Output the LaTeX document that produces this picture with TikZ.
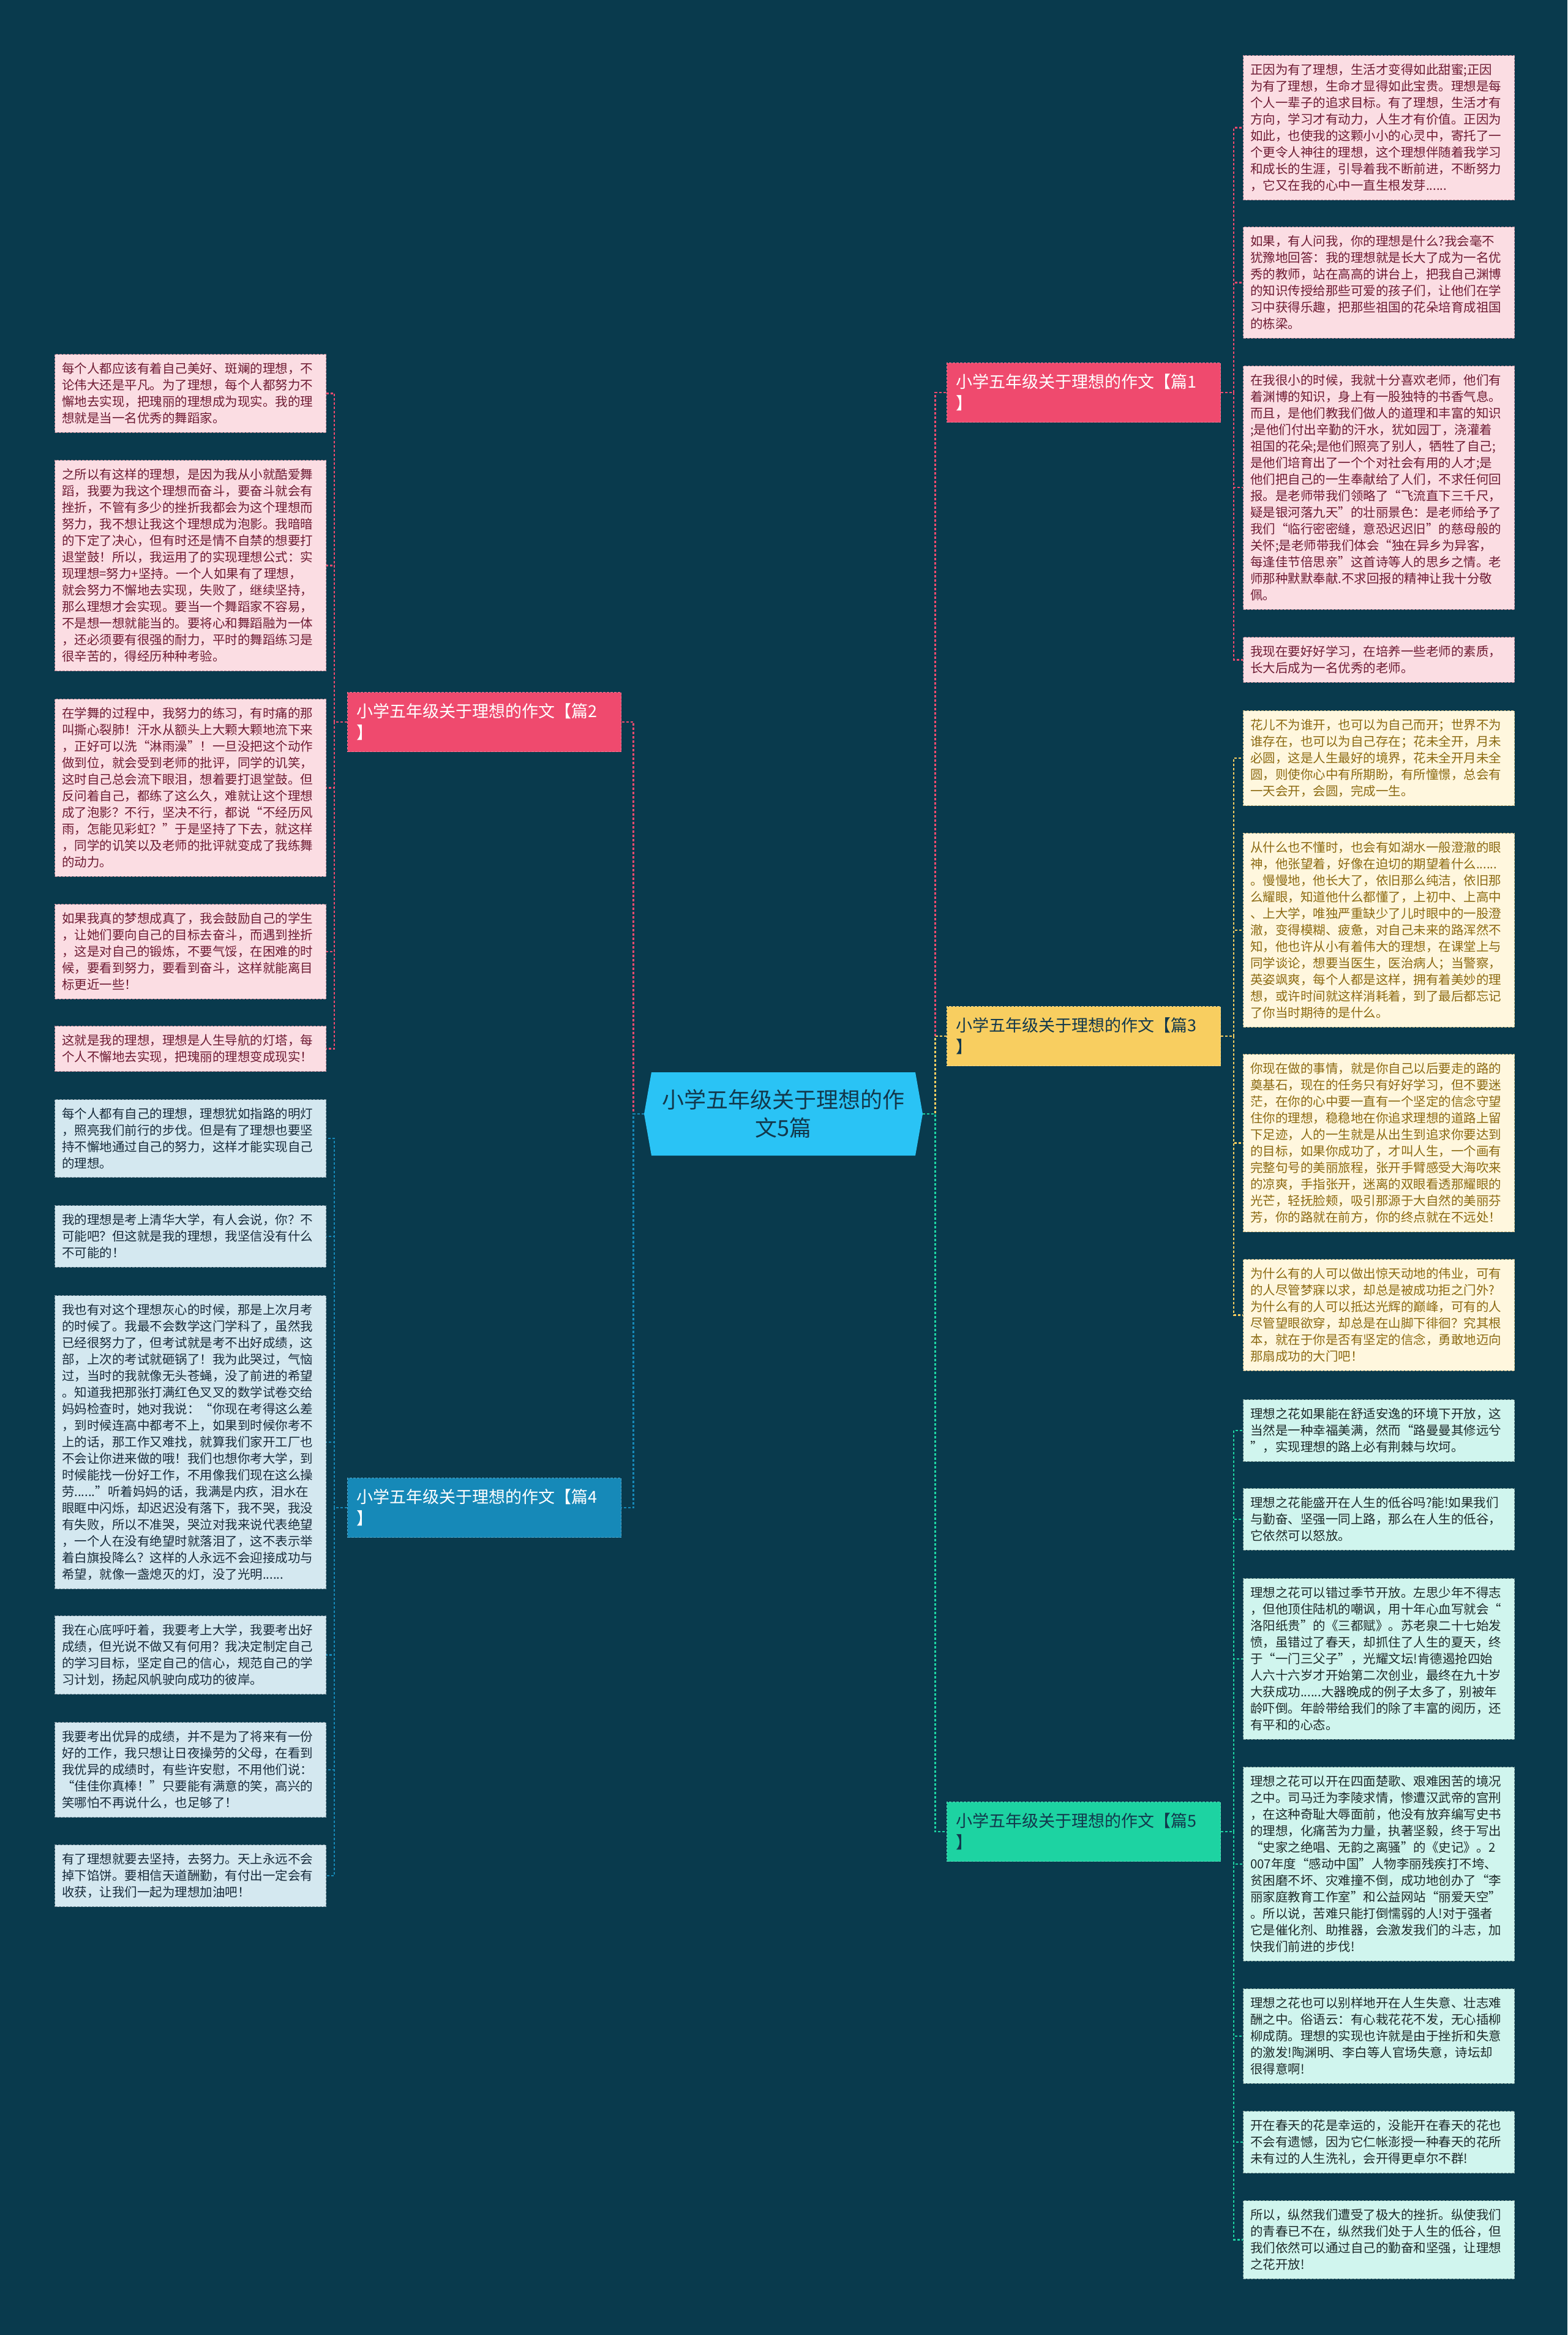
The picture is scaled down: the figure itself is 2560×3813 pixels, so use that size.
\documentclass[tikz,border=0pt]{standalone}
\usepackage{fontspec}
\setmainfont{Noto Sans CJK SC}
\usetikzlibrary{shapes.symbols}
\definecolor{bg}{HTML}{093A4D}
\definecolor{hubblue}{HTML}{2AC3F5}
\definecolor{hubtext}{HTML}{12384C}
\definecolor{pinkmain}{HTML}{EF4A6E}
\definecolor{pinkleaf}{HTML}{FBDDE3}
\definecolor{pinktext}{HTML}{6E1B33}
\definecolor{goldmain}{HTML}{F8CE60}
\definecolor{goldleaf}{HTML}{FFF7DE}
\definecolor{goldtext}{HTML}{8C6A12}
\definecolor{bluemain}{HTML}{1689B8}
\definecolor{blueleaf}{HTML}{D4E8F0}
\definecolor{bluetext}{HTML}{172B3B}
\definecolor{tealmain}{HTML}{1DD3A2}
\definecolor{tealleaf}{HTML}{D0F5EE}
\definecolor{tealtext}{HTML}{1D2A2A}

\begin{document}
\begin{tikzpicture}[x=0.5pt,y=-0.5pt,
  wire/.style={draw=#1,line width=1.2pt,dash pattern=on 2pt off 1.5pt},
  hub/.style={signal,signal to=west and east,signal pointer angle=160,
    minimum width=227.5pt,minimum height=68pt,inner sep=0pt,
    fill=hubblue,text=hubtext,align=center,font=\fontsize{18}{23}\selectfont},
  branch/.style={anchor=north west,rectangle,draw=#1!75!white,fill=#1,
    line width=0.6pt,dash pattern=on 2pt off 1pt,
    text width=208.5pt,inner xsep=7.5pt,minimum height=48.5pt,
    align=left,font=\fontsize{13.5}{17.5}\selectfont},
  leaf/.style={anchor=north west,rectangle,line width=0.5pt,
    dash pattern=on 2pt off 1pt,text width=210pt,inner xsep=5.75pt,
    inner ysep=6.9pt,align=left,font=\fontsize{10.25}{13.5}\selectfont},
  leafpink/.style={leaf,fill=pinkleaf,draw=pinktext!45!pinkleaf,text=pinktext},
  leafgold/.style={leaf,fill=goldleaf,draw=goldtext!45!goldleaf,text=goldtext},
  leafteal/.style={leaf,fill=tealleaf,draw=tealtext!45!tealleaf,text=tealtext},
  leafblue/.style={leaf,fill=blueleaf,draw=bluetext!45!blueleaf,text=bluetext}]
\fill[bg] (0,0) rectangle (2560,3813);
\useasboundingbox (0,0) rectangle (2560,3813);

\draw (1279.5,1819) node[hub] (C) {小学五年级关于理想的作\\文5篇};

\draw (1546,592) node[branch=pinkmain,text=white] (B1) {小学五年级关于理想的作文【篇1\\】};
\draw (567,1130) node[branch=pinkmain,text=white] (B2) {小学五年级关于理想的作文【篇2\\】};
\draw (1546,1643) node[branch=goldmain,text=hubtext] (B3) {小学五年级关于理想的作文【篇3\\】};
\draw (567,2413) node[branch=bluemain,text=white] (B4) {小学五年级关于理想的作文【篇4\\】};
\draw (1546,2942) node[branch=tealmain,text=hubtext] (B5) {小学五年级关于理想的作文【篇5\\】};

\draw (2030,90) node[leafpink] (L1a) {正因为有了理想，生活才变得如此甜蜜;正因\\为有了理想，生命才显得如此宝贵。理想是每\\个人一辈子的追求目标。有了理想，生活才有\\方向，学习才有动力，人生才有价值。正因为\\如此，也使我的这颗小小的心灵中，寄托了一\\个更令人神往的理想，这个理想伴随着我学习\\和成长的生涯，引导着我不断前进，不断努力\\，它又在我的心中一直生根发芽......};
\draw (2030,370) node[leafpink] (L1b) {如果，有人问我，你的理想是什么?我会毫不\\犹豫地回答：我的理想就是长大了成为一名优\\秀的教师，站在高高的讲台上，把我自己渊博\\的知识传授给那些可爱的孩子们，让他们在学\\习中获得乐趣，把那些祖国的花朵培育成祖国\\的栋梁。};
\draw (2030,597) node[leafpink] (L1c) {在我很小的时候，我就十分喜欢老师，他们有\\着渊博的知识，身上有一股独特的书香气息。\\而且，是他们教我们做人的道理和丰富的知识\\;是他们付出辛勤的汗水，犹如园丁，浇灌着\\祖国的花朵;是他们照亮了别人，牺牲了自己;\\是他们培育出了一个个对社会有用的人才;是\\他们把自己的一生奉献给了人们，不求任何回\\报。是老师带我们领略了“飞流直下三千尺，\\疑是银河落九天”的壮丽景色：是老师给予了\\我们“临行密密缝，意恐迟迟旧”的慈母般的\\关怀;是老师带我们体会“独在异乡为异客，\\每逢佳节倍思亲”这首诗等人的思乡之情。老\\师那种默默奉献.不求回报的精神让我十分敬\\佩。};
\draw (2030,1040) node[leafpink] (L1d) {我现在要好好学习，在培养一些老师的素质，\\长大后成为一名优秀的老师。};

\draw (89,578) node[leafpink] (L2a) {每个人都应该有着自己美好、斑斓的理想，不\\论伟大还是平凡。为了理想，每个人都努力不\\懈地去实现，把瑰丽的理想成为现实。我的理\\想就是当一名优秀的舞蹈家。};
\draw (89,751) node[leafpink] (L2b) {之所以有这样的理想，是因为我从小就酷爱舞\\蹈，我要为我这个理想而奋斗，要奋斗就会有\\挫折，不管有多少的挫折我都会为这个理想而\\努力，我不想让我这个理想成为泡影。我暗暗\\的下定了决心，但有时还是情不自禁的想要打\\退堂鼓！所以，我运用了的实现理想公式：实\\现理想=努力+坚持。一个人如果有了理想，\\就会努力不懈地去实现，失败了，继续坚持，\\那么理想才会实现。要当一个舞蹈家不容易，\\不是想一想就能当的。要将心和舞蹈融为一体\\，还必须要有很强的耐力，平时的舞蹈练习是\\很辛苦的，得经历种种考验。};
\draw (89,1141) node[leafpink] (L2c) {在学舞的过程中，我努力的练习，有时痛的那\\叫撕心裂肺！汗水从额头上大颗大颗地流下来\\，正好可以洗“淋雨澡”！一旦没把这个动作\\做到位，就会受到老师的批评，同学的讥笑，\\这时自己总会流下眼泪，想着要打退堂鼓。但\\反问着自己，都练了这么久，难就让这个理想\\成了泡影？不行，坚决不行，都说“不经历风\\雨，怎能见彩虹？”于是坚持了下去，就这样\\，同学的讥笑以及老师的批评就变成了我练舞\\的动力。};
\draw (89,1476) node[leafpink] (L2d) {如果我真的梦想成真了，我会鼓励自己的学生\\，让她们要向自己的目标去奋斗，而遇到挫折\\，这是对自己的锻炼，不要气馁，在困难的时\\候，要看到努力，要看到奋斗，这样就能离目\\标更近一些！};
\draw (89,1675) node[leafpink] (L2e) {这就是我的理想，理想是人生导航的灯塔，每\\个人不懈地去实现，把瑰丽的理想变成现实！};

\draw (2030,1160) node[leafgold] (L3a) {花儿不为谁开，也可以为自己而开；世界不为\\谁存在，也可以为自己存在；花未全开，月未\\必圆，这是人生最好的境界，花未全开月未全\\圆，则使你心中有所期盼，有所憧憬，总会有\\一天会开，会圆，完成一生。};
\draw (2030,1360) node[leafgold] (L3b) {从什么也不懂时，也会有如湖水一般澄澈的眼\\神，他张望着，好像在迫切的期望着什么......\\。慢慢地，他长大了，依旧那么纯洁，依旧那\\么耀眼，知道他什么都懂了，上初中、上高中\\、上大学，唯独严重缺少了儿时眼中的一股澄\\澈，变得模糊、疲惫，对自己未来的路浑然不\\知，他也许从小有着伟大的理想，在课堂上与\\同学谈论，想要当医生，医治病人；当警察，\\英姿飒爽，每个人都是这样，拥有着美妙的理\\想，或许时间就这样消耗着，到了最后都忘记\\了你当时期待的是什么。};
\draw (2030,1721) node[leafgold] (L3c) {你现在做的事情，就是你自己以后要走的路的\\奠基石，现在的任务只有好好学习，但不要迷\\茫，在你的心中要一直有一个坚定的信念守望\\住你的理想，稳稳地在你追求理想的道路上留\\下足迹，人的一生就是从出生到追求你要达到\\的目标，如果你成功了，才叫人生，一个画有\\完整句号的美丽旅程，张开手臂感受大海吹来\\的凉爽，手指张开，迷离的双眼看透那耀眼的\\光芒，轻抚脸颊，吸引那源于大自然的美丽芬\\芳，你的路就在前方，你的终点就在不远处！};
\draw (2030,2056) node[leafgold] (L3d) {为什么有的人可以做出惊天动地的伟业，可有\\的人尽管梦寐以求，却总是被成功拒之门外?\\为什么有的人可以抵达光辉的巅峰，可有的人\\尽管望眼欲穿，却总是在山脚下徘徊？究其根\\本，就在于你是否有坚定的信念，勇敢地迈向\\那扇成功的大门吧！};

\draw (89,1795) node[leafblue] (L4a) {每个人都有自己的理想，理想犹如指路的明灯\\，照亮我们前行的步伐。但是有了理想也要坚\\持不懈地通过自己的努力，这样才能实现自己\\的理想。};
\draw (89,1968) node[leafblue] (L4b) {我的理想是考上清华大学，有人会说，你？不\\可能吧？但这就是我的理想，我坚信没有什么\\不可能的！};
\draw (89,2115) node[leafblue] (L4c) {我也有对这个理想灰心的时候，那是上次月考\\的时候了。我最不会数学这门学科了，虽然我\\已经很努力了，但考试就是考不出好成绩，这\\部，上次的考试就砸锅了！我为此哭过，气恼\\过，当时的我就像无头苍蝇，没了前进的希望\\。知道我把那张打满红色叉叉的数学试卷交给\\妈妈检查时，她对我说：“你现在考得这么差\\，到时候连高中都考不上，如果到时候你考不\\上的话，那工作又难找，就算我们家开工厂也\\不会让你进来做的哦！我们也想你考大学，到\\时候能找一份好工作，不用像我们现在这么操\\劳......”听着妈妈的话，我满是内疚，泪水在\\眼眶中闪烁，却迟迟没有落下，我不哭，我没\\有失败，所以不准哭，哭泣对我来说代表绝望\\，一个人在没有绝望时就落泪了，这不表示举\\着白旗投降么？这样的人永远不会迎接成功与\\希望，就像一盏熄灭的灯，没了光明......};
\draw (89,2638) node[leafblue] (L4d) {我在心底呼吁着，我要考上大学，我要考出好\\成绩，但光说不做又有何用？我决定制定自己\\的学习目标，坚定自己的信心，规范自己的学\\习计划，扬起风帆驶向成功的彼岸。};
\draw (89,2812) node[leafblue] (L4e) {我要考出优异的成绩，并不是为了将来有一份\\好的工作，我只想让日夜操劳的父母，在看到\\我优异的成绩时，有些许安慰，不用他们说：\\“佳佳你真棒！”只要能有满意的笑，高兴的\\笑哪怕不再说什么，也足够了！};
\draw (89,3012) node[leafblue] (L4f) {有了理想就要去坚持，去努力。天上永远不会\\掉下馅饼。要相信天道酬勤，有付出一定会有\\收获，让我们一起为理想加油吧！};

\draw (2030,2285) node[leafteal] (L5a) {理想之花如果能在舒适安逸的环境下开放，这\\当然是一种幸福美满，然而“路曼曼其修远兮\\”，实现理想的路上必有荆棘与坎坷。};
\draw (2030,2430) node[leafteal] (L5b) {理想之花能盛开在人生的低谷吗?能!如果我们\\与勤奋、坚强一同上路，那么在人生的低谷，\\它依然可以怒放。};
\draw (2030,2577) node[leafteal] (L5c) {理想之花可以错过季节开放。左思少年不得志\\，但他顶住陆机的嘲讽，用十年心血写就会“\\洛阳纸贵”的《三都赋》。苏老泉二十七始发\\愤，虽错过了春天，却抓住了人生的夏天，终\\于“一门三父子”，光耀文坛!肯德遏抢四始\\人六十六岁才开始第二次创业，最终在九十岁\\大获成功......大器晚成的例子太多了，别被年\\龄吓倒。年龄带给我们的除了丰富的阅历，还\\有平和的心态。};
\draw (2030,2885) node[leafteal] (L5d) {理想之花可以开在四面楚歌、艰难困苦的境况\\之中。司马迁为李陵求情，惨遭汉武帝的宫刑\\，在这种奇耻大辱面前，他没有放弃编写史书\\的理想，化痛苦为力量，执著坚毅，终于写出\\“史家之绝唱、无韵之离骚”的《史记》。2\\007年度“感动中国”人物李丽残疾打不垮、\\贫困磨不坏、灾难撞不倒，成功地创办了“李\\丽家庭教育工作室”和公益网站“丽爱天空”\\。所以说，苦难只能打倒懦弱的人!对于强者\\它是催化剂、助推器，会激发我们的斗志，加\\快我们前进的步伐!};
\draw (2030,3247) node[leafteal] (L5e) {理想之花也可以别样地开在人生失意、壮志难\\酬之中。俗语云：有心栽花花不发，无心插柳\\柳成荫。理想的实现也许就是由于挫折和失意\\的激发!陶渊明、李白等人官场失意，诗坛却\\很得意啊!};
\draw (2030,3447) node[leafteal] (L5f) {开在春天的花是幸运的，没能开在春天的花也\\不会有遗憾，因为它仁帐澎授一种春天的花所\\未有过的人生洗礼，会开得更卓尔不群!};
\draw (2030,3593) node[leafteal] (L5g) {所以，纵然我们遭受了极大的挫折。纵使我们\\的青春已不在，纵然我们处于人生的低谷，但\\我们依然可以通过自己的勤奋和坚强，让理想\\之花开放!};

\draw[wire=pinkmain] (C.west) -- ++(-17,0) |- (B2.east);
\draw[wire=bluemain] (C.west) -- ++(-17,0) |- (B4.east);
\draw[wire=pinkmain] (C.east) -- ++(20,0) |- (B1.west);
\draw[wire=goldmain] (C.east) -- ++(20,0) |- (B3.west);
\draw[wire=tealmain] (C.east) -- ++(20,0) |- (B5.west);

\foreach \n in {L1a,L1b,L1c,L1d}
  \draw[wire=pinkmain] (B1.east) -- ++(21,0) |- (\n.west);
\foreach \n in {L3a,L3b,L3c,L3d}
  \draw[wire=goldmain] (B3.east) -- ++(21,0) |- (\n.west);
\foreach \n in {L5a,L5b,L5c,L5d,L5e,L5f,L5g}
  \draw[wire=tealmain] (B5.east) -- ++(21,0) |- (\n.west);
\foreach \n in {L2a,L2b,L2c,L2d,L2e}
  \draw[wire=pinkmain] (B2.west) -- ++(-21,0) |- (\n.east);
\foreach \n in {L4a,L4b,L4c,L4d,L4e,L4f}
  \draw[wire=bluemain] (B4.west) -- ++(-21,0) |- (\n.east);
\end{tikzpicture}
\end{document}
